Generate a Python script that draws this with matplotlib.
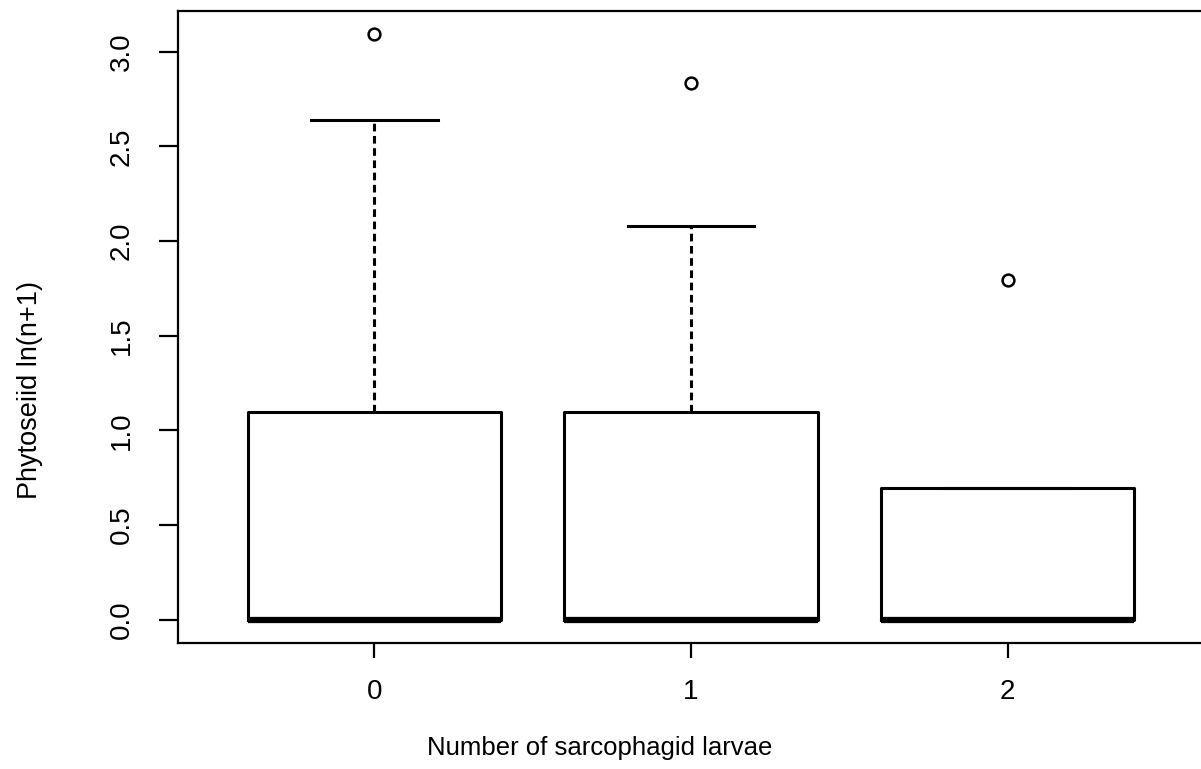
import numpy as np
import matplotlib
matplotlib.use("Agg")
import matplotlib.pyplot as plt

plt.rcParams["font.family"] = ["Liberation Sans", "DejaVu Sans"]

# values (ln(n+1) scale)
groups = ["0", "1", "2"]
q1 = [0.0, 0.0, 0.0]
med = [0.0, 0.0, 0.0]
q3 = [np.log(3), np.log(3), np.log(2)]
whislo = [0.0, 0.0, 0.0]
whishi = [np.log(14), np.log(8), np.log(2)]
outliers = [[np.log(22)], [np.log(17)], [np.log(6)]]

stats = []
for i in range(len(groups)):
    stats.append(dict(q1=q1[i], med=med[i], q3=q3[i], whislo=whislo[i],
                      whishi=whishi[i], fliers=outliers[i], label=groups[i]))

fig = plt.figure(figsize=(12.01, 7.69), dpi=100)
ax = fig.add_axes([0.1482, 0.1638, 0.8543, 0.8219])

pos = np.arange(1, len(groups) + 1)
ax.bxp(stats, positions=pos, widths=0.8, showfliers=True,
       boxprops=dict(color="black", linewidth=2.2),
       medianprops=dict(color="black", linewidth=4.5, solid_capstyle="butt"),
       whiskerprops=dict(color="black", linewidth=2.2, linestyle=(0, (2.5, 1.5))),
       capprops=dict(color="black", linewidth=2.2),
       capwidths=0.4,
       flierprops=dict(marker="o", markerfacecolor="none", markeredgecolor="black",
                       markersize=8.5, markeredgewidth=1.8))

ax.set_xlim(0.38, 3.62)
ax.set_ylim(-0.1236, 3.215)
ax.set_xticks(pos)
ax.set_xticklabels(groups)
ax.set_yticks(np.arange(0, 3.01, 0.5))
ax.set_yticklabels([f"{v:.1f}" for v in np.arange(0, 3.01, 0.5)],
                   rotation=90, va="center")

for s in ax.spines.values():
    s.set_linewidth(1.6)
ax.tick_params(axis="both", width=1.6, labelsize=20)
ax.tick_params(axis="x", length=11, pad=15)
ax.tick_params(axis="y", length=14, pad=17)

ax.set_xlabel("Number of sarcophagid larvae", fontsize=18.5, va="center")
ax.set_ylabel("Phytoseiid ln(n+1)", fontsize=19.5, va="center")
ax.xaxis.set_label_coords(0.411, -0.166)
ax.yaxis.set_label_coords(-0.144, 0.40)

fig.savefig("out.png", dpi=100)
